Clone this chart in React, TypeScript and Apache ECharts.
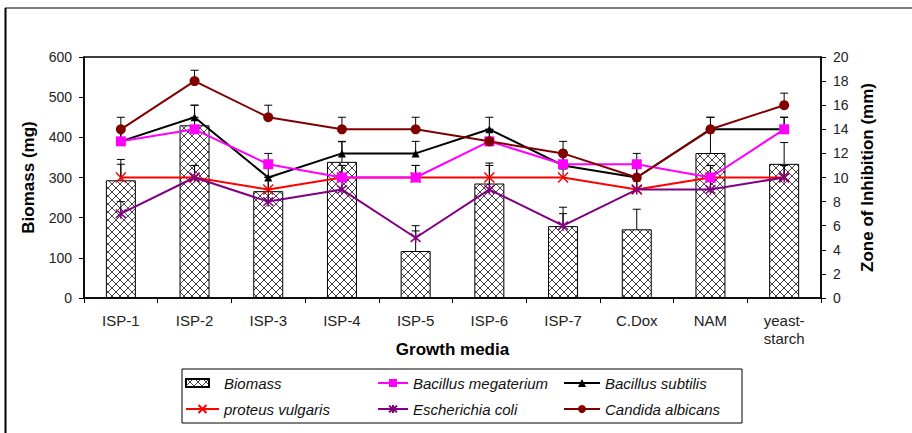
import React, { useEffect, useRef } from 'react';
import * as echarts from 'echarts';

const FONT = '"Liberation Sans", Arial, sans-serif';

const categories = ['ISP-1', 'ISP-2', 'ISP-3', 'ISP-4', 'ISP-5', 'ISP-6', 'ISP-7', 'C.Dox', 'NAM', 'yeast-\nstarch'];

// Biomass (mg), left axis
const biomass = [293, 430, 266, 339, 117, 285, 179, 171, 361, 334];
const biomassErr = [52, 50, 35, 50, 50, 51, 47, 50, 59, 53];

// Zone of inhibition (mm), right axis
const megaterium = [13, 14, 11.1, 10, 10, 13, 11.1, 11.1, 10, 14];
const megateriumErr = [1, 1, 0.9, 1, 1, 1, 1, 0.9, 1, 1];
const subtilis = [13, 15, 10, 12, 12, 14, 11, 10, 14, 14];
const subtilisErr = [1, 1, 1, 1, 1, 1, 1, 1, 1, 1];
const proteus = [10, 10, 9, 10, 10, 10, 10, 9, 10, 10];
const proteusErr = [1.1, 1, 1, 1, 1, 1, 1, 1, 1, 1];
const ecoli = [7, 10, 8, 9, 5, 9, 6, 9, 9, 10];
const ecoliErr = [1, 1, 1, 1, 1, 1, 1, 1, 1, 1];
const candida = [14, 18, 15, 14, 14, 13, 12, 10, 14, 16];
const candidaErr = [1, 0.9, 1, 1, 1, 1, 1, 1, 1, 1];

const leftTicks = { min: 0, max: 600, interval: 100 };
const rightTicks = { min: 0, max: 20, interval: 2 };

function makeHatch() {
  const c = document.createElement('canvas');
  c.width = 8;
  c.height = 8;
  const ctx = c.getContext('2d')!;
  ctx.fillStyle = '#fff';
  ctx.fillRect(0, 0, 8, 8);
  ctx.strokeStyle = '#444';
  ctx.lineWidth = 1;
  ctx.beginPath();
  ctx.moveTo(0, 0);
  ctx.lineTo(8, 8);
  ctx.moveTo(8, 0);
  ctx.lineTo(0, 8);
  ctx.stroke();
  return c;
}

const renderErr = (params: any, api: any) => {
  const i = api.value(0);
  const v = api.value(1);
  const e = api.value(2);
  if (!e) return null;
  const p0 = api.coord([i, v]);
  const p1 = api.coord([i, v + e]);
  return {
    type: 'group',
    children: [
      { type: 'line', shape: { x1: p0[0], y1: p0[1], x2: p1[0], y2: p1[1] }, style: { stroke: '#000', lineWidth: 1 } },
      { type: 'line', shape: { x1: p1[0] - 4, y1: p1[1], x2: p1[0] + 4, y2: p1[1] }, style: { stroke: '#000', lineWidth: 1 } },
    ],
  };
};

const errSeries = (vals: number[], errs: number[], yAxisIndex: number) => ({
  type: 'custom',
  yAxisIndex,
  renderItem: renderErr,
  data: vals.map((v, i) => [i, v, errs[i]]),
  encode: { x: 0, y: 1 },
  silent: true,
  z: 3,
});

const X_SYMBOL = 'path://M0,0L10,10M10,0L0,10';
const STAR_SYMBOL = 'path://M0,0L10,10M10,0L0,10M5,-1L5,11';

const lineSeries = (name: string, data: number[], color: string, symbol: string, size: number, stroked = false) => ({
  name,
  type: 'line',
  yAxisIndex: 1,
  data,
  symbol,
  symbolSize: size,
  showSymbol: true,
  lineStyle: { color, width: 2 },
  itemStyle: stroked
    ? { color: 'rgba(0,0,0,0)', borderColor: color, borderWidth: 1.5 }
    : { color, borderColor: color, borderWidth: 0 },
  z: 4,
});

export default function App() {
  const ref = useRef<HTMLDivElement>(null);
  useEffect(() => {
    if (!ref.current) return;
    const chart = echarts.init(ref.current, null, { renderer: 'svg' });
    const hatch = { image: makeHatch(), repeat: 'repeat', imageWidth: 8, imageHeight: 8 };
    const axisLine = { show: true, lineStyle: { color: '#000', width: 1.5 } };
    const axisTick = { show: true, length: 5, lineStyle: { color: '#000', width: 1 } };
    const nameStyle = { fontSize: 17, fontWeight: 'bold', color: '#000', fontFamily: FONT };
    const legendText = { fontSize: 15, fontStyle: 'italic', color: '#111', lineHeight: 16, fontFamily: FONT };
    const legendBase = { orient: 'vertical', top: 375, itemHeight: 10, itemGap: 10, padding: 0, textStyle: legendText, selectedMode: false };
    const option: any = {
      animation: false,
      backgroundColor: '#fff',
      textStyle: { fontFamily: FONT },
      grid: { left: 84, right: 91, top: 57, bottom: 135, show: true, borderColor: '#000', borderWidth: 1.5 },
      xAxis: {
        type: 'category',
        data: categories,
        axisLine,
        axisTick: { ...axisTick, alignWithLabel: false },
        axisLabel: { color: '#222', fontSize: 15, margin: 13, lineHeight: 18, interval: 0, fontFamily: FONT },
        name: 'Growth media',
        nameLocation: 'middle',
        nameGap: 43,
        nameMoveOverlap: false,
        nameTextStyle: nameStyle,
      },
      yAxis: [
        {
          type: 'value',
          ...leftTicks,
          position: 'left',
          name: 'Biomass (mg)',
          nameLocation: 'middle',
          nameGap: 47,
          nameRotate: 90,
          nameMoveOverlap: false,
          nameTextStyle: nameStyle,
          axisLine,
          axisTick,
          axisLabel: { color: '#222', fontSize: 14, margin: 12, fontFamily: FONT },
          splitLine: { show: false },
        },
        {
          type: 'value',
          ...rightTicks,
          position: 'right',
          name: 'Zone of Inhibition (mm)',
          nameLocation: 'middle',
          nameGap: 38,
          nameRotate: 90,
          nameMoveOverlap: false,
          nameTextStyle: nameStyle,
          axisLine,
          axisTick,
          axisLabel: { color: '#222', fontSize: 14, margin: 12, fontFamily: FONT },
          splitLine: { show: false },
        },
      ],
      legend: [
        {
          ...legendBase,
          left: 185,
          itemWidth: 33,
          data: [
            { name: 'Biomass', icon: 'path://M0,0H23V8H0Z M33,4L33,4' },
            { name: 'proteus vulgaris' },
          ],
        },
        { ...legendBase, left: 377, itemWidth: 30, data: ['Bacillus megaterium', 'Escherichia coli'] },
        { ...legendBase, left: 563, itemWidth: 36, data: ['Bacillus subtilis', 'Candida albicans'] },
      ],
      graphic: [
        { type: 'line', shape: { x1: 5, y1: 8, x2: 912, y2: 8 }, style: { stroke: '#000', lineWidth: 1 } },
        { type: 'line', shape: { x1: 5.5, y1: 8, x2: 5.5, y2: 433 }, style: { stroke: '#000', lineWidth: 2 } },
        { type: 'rect', shape: { x: 182, y: 369, width: 560, height: 54 }, style: { fill: 'none', stroke: '#000', lineWidth: 1 }, z: -1 },
      ],
      series: [
        {
          name: 'Biomass',
          type: 'bar',
          yAxisIndex: 0,
          data: biomass,
          barWidth: 30,
          itemStyle: { color: hatch, borderColor: '#000', borderWidth: 1 },
          z: 1,
        },
        errSeries(biomass, biomassErr, 0),
        errSeries(candida, candidaErr, 1),
        errSeries(subtilis, subtilisErr, 1),
        errSeries(megaterium, megateriumErr, 1),
        errSeries(proteus, proteusErr, 1),
        errSeries(ecoli, ecoliErr, 1),
        lineSeries('proteus vulgaris', proteus, '#FF0000', X_SYMBOL, 10, true),
        lineSeries('Escherichia coli', ecoli, '#800080', STAR_SYMBOL, 10, true),
        lineSeries('Bacillus subtilis', subtilis, '#000000', 'triangle', 8),
        lineSeries('Bacillus megaterium', megaterium, '#FF00FF', 'rect', 10),
        lineSeries('Candida albicans', candida, '#800000', 'circle', 10),
      ],
    };
    chart.setOption(option);
    return () => chart.dispose();
  }, []);
  return <div ref={ref} style={{ position: 'fixed', left: 0, top: 0, width: 912, height: 433 }} />;
}
